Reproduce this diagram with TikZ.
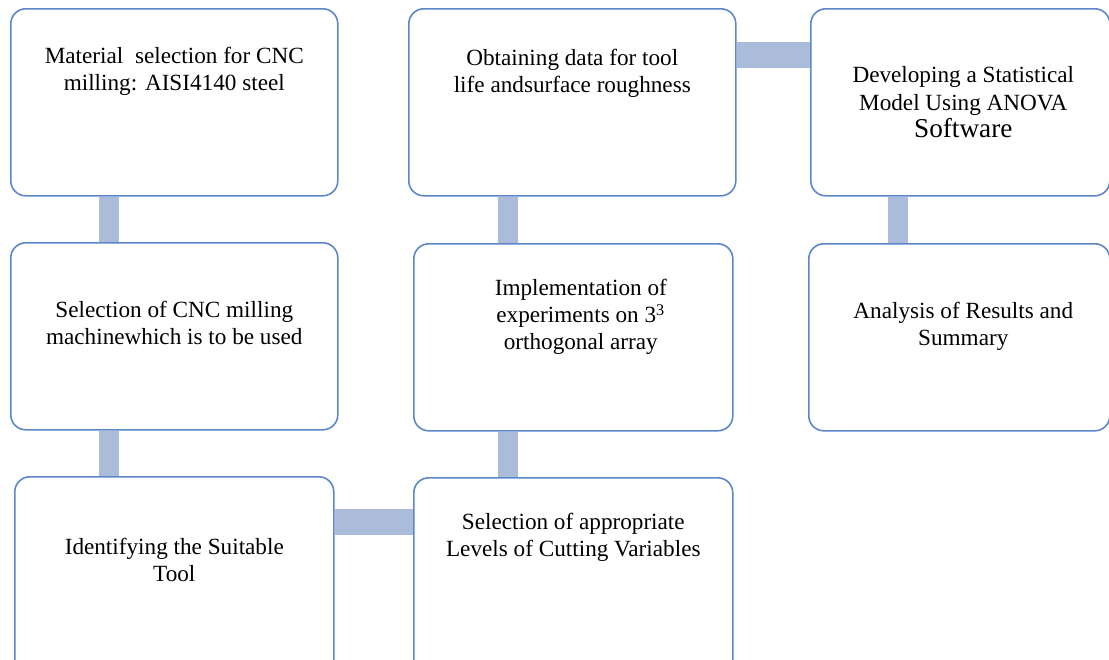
\documentclass[tikz,border=0pt]{standalone}
\usepackage{fontspec}
\setmainfont{Liberation Serif}
\usetikzlibrary{backgrounds}

\definecolor{boxline}{RGB}{91,135,200}
\definecolor{barfill}{RGB}{170,188,218}

\begin{document}
\begin{tikzpicture}[
	flowbox/.style={draw=boxline, line width=0.9pt, rounded corners=0.3cm,
		fill=white, anchor=north west, inner sep=0pt},
	boxtext/.style={align=center, font=\fontsize{13.2}{15.5}\selectfont},
	vbar/.style={draw=barfill, line width=0.40cm},
	hbar/.style={draw=barfill, line width=0.52cm}
	]
	\clip (0,0) rectangle (22.18,-13.18);

	% first row
	\node [flowbox, minimum width=6.54cm, minimum height=3.74cm] (mat) at (0.20,-0.16) {};
	\node [flowbox, minimum width=6.54cm, minimum height=3.74cm] (obt) at (8.16,-0.16) {};
	\node [flowbox, minimum width=5.98cm, minimum height=3.74cm] (dev) at (16.20,-0.16) {};
	% second row
	\node [flowbox, minimum width=6.54cm, minimum height=3.74cm] (cnc) at (0.20,-4.84) {};
	\node [flowbox, minimum width=6.38cm, minimum height=3.74cm] (imp) at (8.26,-4.86) {};
	\node [flowbox, minimum width=6.02cm, minimum height=3.74cm] (ana) at (16.16,-4.86) {};
	% third row, runs off the bottom
	\node [flowbox, minimum width=6.38cm, minimum height=4.40cm] (tool) at (0.28,-9.52) {};
	\node [flowbox, minimum width=6.38cm, minimum height=4.40cm] (lev) at (8.26,-9.54) {};

	\node [boxtext] at ([yshift=-1.26cm]mat.north) {Material\ \ selection for CNC\\milling: AISI4140 steel};
	\node [boxtext] at ([yshift=-1.30cm]obt.north) {Obtaining data for tool\\life andsurface roughness};
	\node [boxtext] at ([xshift=0.06cm]dev.center) {Developing a Statistical\\Model Using ANOVA\\{\fontsize{15.5}{18}\selectfont Software}};
	\node [boxtext] at ([yshift=-1.62cm]cnc.north) {Selection of CNC milling\\machinewhich is to be used};
	\node [boxtext] at ([xshift=0.15cm,yshift=-1.48cm]imp.north) {Implementation of\\experiments on 3\textsuperscript{3}\\orthogonal array};
	\node [boxtext] at ([xshift=0.08cm,yshift=-1.66cm]ana.north) {Analysis of Results and\\Summary};
	\node [boxtext] at ([yshift=-1.68cm]tool.north) {Identifying the Suitable\\Tool};
	\node [boxtext] at ([yshift=-1.20cm]lev.north) {Selection of appropriate\\Levels of Cutting Variables};

	\begin{scope}[on background layer]
		\draw [vbar] ([xshift=1.98cm]mat.south west) -- ([xshift=1.98cm]cnc.north west);
		\draw [vbar] ([xshift=1.98cm]cnc.south west) -- ([xshift=1.98cm]cnc.south west |- tool.north);
		\draw [vbar] ([xshift=1.99cm]obt.south west) -- ([xshift=1.99cm]obt.south west |- imp.north);
		\draw [vbar] ([xshift=1.89cm]imp.south west) -- ([xshift=1.89cm]imp.south west |- lev.north);
		\draw [vbar] ([xshift=1.75cm]dev.south west) -- ([xshift=1.75cm]dev.south west |- ana.north);
		\draw [hbar] ([yshift=-0.94cm]obt.north east) -- ([yshift=-0.94cm]obt.north east -| dev.west);
		\draw [hbar] ([yshift=-0.91cm]tool.north east) -- ([yshift=-0.91cm]tool.north east -| lev.west);
	\end{scope}
\end{tikzpicture}
\end{document}
